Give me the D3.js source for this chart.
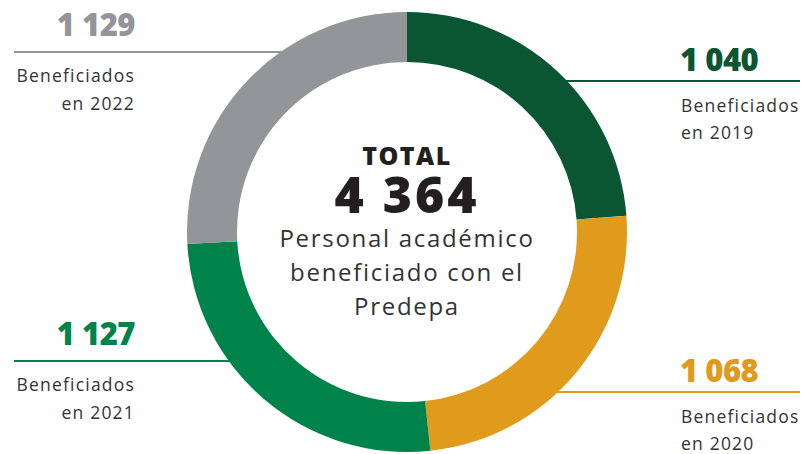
<!DOCTYPE html>
<html>
<head>
<meta charset="utf-8">
<script src="https://cdn.jsdelivr.net/npm/d3@7"></script>
<style>
  body { margin: 0; background: #fff; }
  text { font-family: "Open Sans", Lato, sans-serif; }
</style>
</head>
<body>
<div id="chart"></div>
<script>
// data
var years = ["2019", "2020", "2021", "2022"];
var values = [1040, 1068, 1127, 1129];
var colors = ["#0a5532", "#e09a1c", "#00834a", "#939598"];
var labelPrefix = "Beneficiados";
var centerTitle = "TOTAL";
var centerLines = ["Personal académico", "beneficiado con el", "Predepa"];

// layout of the callouts (side + rule height)
var calloutSide = ["right", "right", "left", "left"];
var calloutY = [81, 392, 361, 52];

var width = 804, height = 454;
var cx = 407, cy = 232, outerR = 220, innerR = 170;

var svg = d3.select("#chart")
    .append("svg")
    .attr("width", width)
    .attr("height", height);

var fmt = d3.formatLocale({decimal: ",", thousands: " ", grouping: [3], currency: ["", ""]}).format(",");

var data = years.map(function(y, i) {
    return {year: y, value: values[i], color: colors[i], side: calloutSide[i], ly: calloutY[i]};
});

// callout rules first so the ring covers their ends
var callouts = svg.append("g");
data.forEach(function(d) {
    var dy = d.ly - cy;
    var edge = Math.sqrt(outerR * outerR - dy * dy);
    var left = d.side == "left";
    var g = callouts.append("g")
        .attr("text-anchor", left ? "end" : "start");
    var tx = left ? 135 : 681;
    g.append("line")
      .attr("x1", left ? 14 : cx + edge - 1)
      .attr("x2", left ? cx - edge + 1 : 800)
      .attr("y1", d.ly).attr("y2", d.ly)
      .attr("stroke", d.color).attr("stroke-width", 2);
    g.append("text")
      .attr("x", left ? tx : tx - 1).attr("y", d.ly - (left ? 16 : 10))
      .attr("font-size", 31).attr("font-weight", 800)
      .attr("letter-spacing", -0.5)
      .attr("fill", d.color)
      .text(fmt(d.value));
    g.append("text")
      .attr("x", tx).attr("y", d.ly + (left ? 30 : 31))
      .attr("font-size", 17.5).attr("letter-spacing", 1.2)
      .attr("fill", "#333")
      .text(labelPrefix);
    g.append("text")
      .attr("x", tx).attr("y", d.ly + (left ? 58 : 58))
      .attr("font-size", 17.5).attr("letter-spacing", 1.2)
      .attr("fill", "#333")
      .text("en " + d.year);
});

// donut
var pie = d3.pie().sort(null).value(function(d) { return d.value; });
var arc = d3.arc().innerRadius(innerR).outerRadius(outerR);

svg.append("g")
    .attr("transform", "translate(" + cx + "," + cy + ")")
    .selectAll("path")
    .data(pie(data))
    .enter()
    .append("path")
    .attr("d", arc)
    .attr("fill", function(d) { return d.data.color; });

// center text
var center = svg.append("g").attr("text-anchor", "middle");
center.append("text")
    .attr("x", cx).attr("y", 165)
    .attr("font-size", 25).attr("font-weight", 800)
    .attr("letter-spacing", 1.5)
    .attr("fill", "#231f20")
    .text(centerTitle);
center.append("text")
    .attr("x", cx).attr("y", 213)
    .attr("font-size", 50).attr("font-weight", 800)
    .attr("letter-spacing", 3)
    .attr("fill", "#231f20")
    .text(fmt(d3.sum(values)));
centerLines.forEach(function(t, i) {
    center.append("text")
      .attr("x", cx).attr("y", 247 + i * 34)
      .attr("font-size", 24).attr("letter-spacing", 1.7)
      .attr("fill", "#333")
      .text(t);
});
</script>
</body>
</html>
